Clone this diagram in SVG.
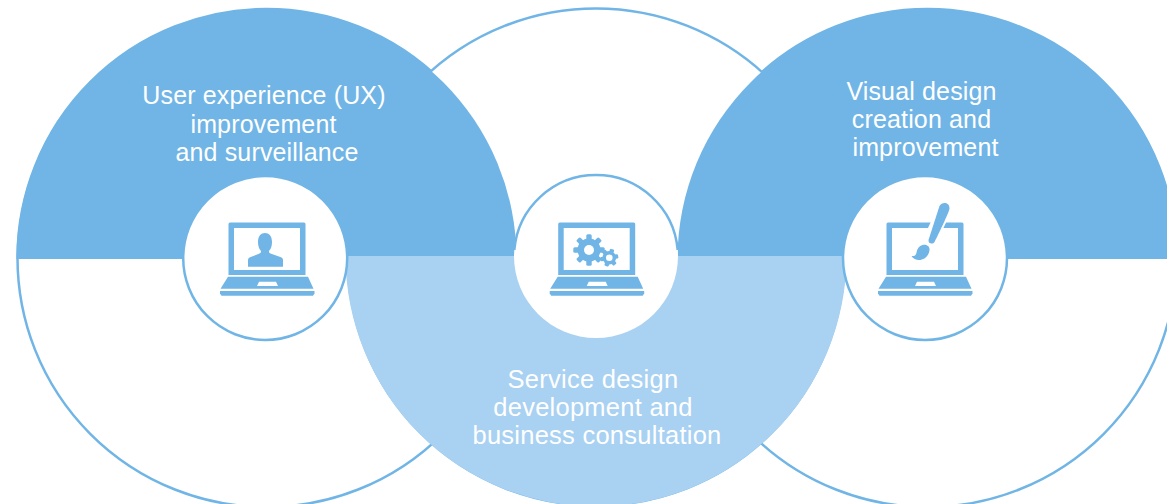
<svg xmlns="http://www.w3.org/2000/svg" width="1167" height="504" viewBox="0 0 1167 504">
<style>
.dk{fill:#70b5e6}
.lt{fill:#a9d1f2}
.ol{fill:#fff;stroke:#70b5e6;stroke-width:2.5}
.hole{fill:#fff}
.ln{fill:none;stroke:#70b5e6;stroke-width:2.5}
text{font-family:"Liberation Sans",Arial,sans-serif;font-size:25px;letter-spacing:.15px;fill:#fff;text-anchor:middle}
.sv{font-size:25.5px;letter-spacing:.25px}
</style>
<defs>
<g id="laptop">
<path class="dk" fill-rule="evenodd" d="M-37-37.500h74a1.500 1.500 0 0 1 1.500 1.500v51h-77v-51a1.500 1.500 0 0 1 1.500-1.500zM-33-32v42h66v-42z"/>
<path class="dk" fill-rule="evenodd" d="M-39 16.700h80l5.500 12h-93zM-8 21.700l-2 4.300h21l-2-4.300z"/>
<path class="dk" d="M-47 31h94.500v2.500l-1.500 2.200h-91.500l-1.500-2.200z"/>
</g>
</defs>
<g id="connectors">
<circle class="ol" cx="266.500" cy="258" r="249"/>
<circle class="ol" cx="927.500" cy="258" r="249"/>
<circle class="ol" cx="596" cy="257" r="248.500"/>
</g>
<g id="node-ux">
<path class="dk" d="M16.500 259A250 250 0 0 1 516.500 259Z"/>
<text x="264" y="103.500">User experience (UX)</text>
<text x="263.500" y="132.500">improvement</text>
<text x="267" y="160.500">and surveillance</text>
</g>
<g id="node-visual">
<path class="dk" d="M677.500 259A250 250 0 0 1 1177.500 259Z"/>
<text x="921.500" y="99.500">Visual design</text>
<text x="921.500" y="127.500">creation and</text>
<text x="925.500" y="155.500">improvement</text>
</g>
<g id="node-service">
<path class="lt" d="M345.500 256H846.500A250.500 250.500 0 0 1 345.500 256Z"/>
<text class="sv" x="593" y="388">Service design</text>
<text class="sv" x="593" y="416">development and</text>
<text class="sv" x="597" y="444">business consultation</text>
</g>
<g id="node-ux-icon">
<circle class="ol" cx="265.200" cy="258" r="82"/>
<g transform="translate(267 260)">
<use href="#laptop"/>
<path class="dk" d="M-19 6.700V0c0-1.500 1-2.200 2-2.700l9.500-3.800c1.500-.6 1.500-1.500 1.500-2.500-2-2-3-5-3-9 0-6 3-9 7-9s7 3 7 9c0 4-1 7-3 9 0 1 0 1.900 1.500 2.500L14-2.700c1 .5 2 1.200 2 2.700V6.700z"/>
</g>
</g>
<g id="node-service-icon">
<circle class="hole" cx="596" cy="256" r="82"/>
<path class="ln" d="M514.300 250A82 82 0 0 1 677.700 250"/>
<g transform="translate(596.700 260)">
<use href="#laptop"/>
<g class="dk">
<circle cx="-7.700" cy="-10" r="11.500"/>
<rect x="-10.400" y="-25.700" width="5.400" height="31.400" rx="1.500"/>
<rect x="-10.400" y="-25.700" width="5.400" height="31.400" rx="1.500" transform="rotate(45 -7.700 -10)"/>
<rect x="-10.400" y="-25.700" width="5.400" height="31.400" rx="1.500" transform="rotate(90 -7.700 -10)"/>
<rect x="-10.400" y="-25.700" width="5.400" height="31.400" rx="1.500" transform="rotate(135 -7.700 -10)"/>
<circle cx="12.600" cy="-2.300" r="6.800"/>
<rect x="10.400" y="-11.300" width="4.400" height="18" rx="1.200" transform="rotate(20 12.600 -2.300)"/>
<rect x="10.400" y="-11.300" width="4.400" height="18" rx="1.200" transform="rotate(80 12.600 -2.300)"/>
<rect x="10.400" y="-11.300" width="4.400" height="18" rx="1.200" transform="rotate(140 12.600 -2.300)"/>
</g>
<circle cx="-7.700" cy="-10" r="5" class="hole"/>
<circle cx="12.600" cy="-2.300" r="3.300" class="hole"/>
</g>
</g>
<g id="node-visual-icon">
<circle class="ol" cx="925" cy="258" r="82"/>
<g transform="translate(925 260)">
<use href="#laptop"/>
<path class="hole" d="M6-38.500H21.500L18-31H2.500Z"/>
<path class="dk" d="M14.500-54C17-58.500 24.500-58 24.500-51.500 24-47.500 12-23 9.500-18 7.500-15 3-16.500 3.500-20Z"/>
<path class="dk" d="M-2.500-15C1-16 5-14 4.500-10 4-4-1 0-6 0-9 0-12-1.500-13.500-4-10-3.500-9-5-8.500-7.500-8-11-6-14-2.500-15Z"/>
</g>
</g>
</svg>
